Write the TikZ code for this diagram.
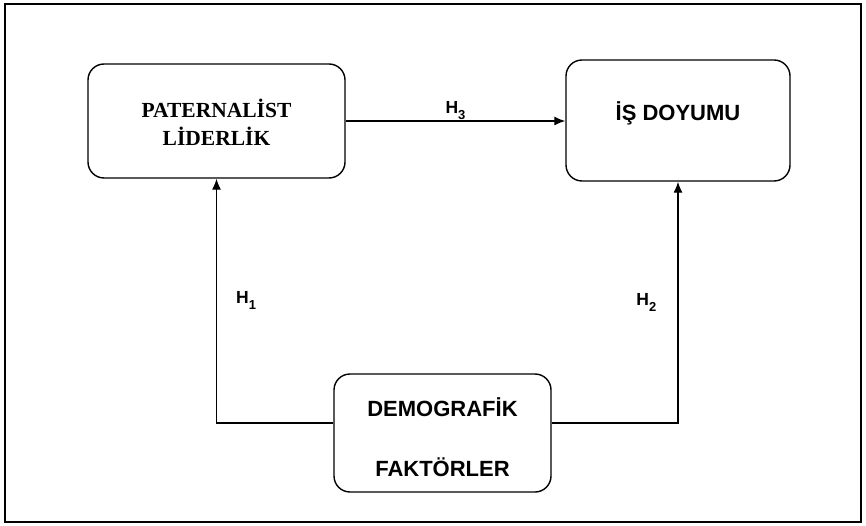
\documentclass[tikz,border=0pt]{standalone}
\usepackage{fontspec}
\setmainfont{Liberation Serif}
\setsansfont{Liberation Sans}
\usetikzlibrary{arrows.meta}

\newcommand\hypo[1]{H\raisebox{-6pt}{\fontsize{13}{13}\selectfont #1}}

\begin{document}
\begin{tikzpicture}[x=1pt, y=-1pt]
	\tikzstyle{box} = [
		rectangle, rounded corners=16pt, draw=black, line width=1.4pt
	]
	\tikzstyle{caption} = [
		font=\fontsize{22}{26}\selectfont\sffamily\bfseries, align=center
	]
	\tikzstyle{hyp} = [
		font=\fontsize{17.5}{18}\selectfont\sffamily\bfseries, inner sep=0pt
	]
	\tikzstyle{conn} = [
		line width=1.3pt, -{Latex[length=11pt, width=9pt]}
	]

	% Frame
	\useasboundingbox (0,0) rectangle (866,526);
	\draw[line width=1.5pt] (5,4) rectangle (861,522);

	% Paternalist
	\node (Paternalist) [box, minimum width=257pt, minimum height=114pt] at (216.5,121) {}
		% Caption
		node [caption, font=\fontsize{21.5}{27.3}\selectfont\rmfamily\bfseries, yshift=-1.3pt] at (Paternalist.center) {PATERNALİST\\LİDERLİK}
	;

	% Is doyumu
	\node (Doyum) [box, minimum width=224pt, minimum height=121pt] at (678,120.5) {}
		node [caption, yshift=7.5pt] at (Doyum.center) {İŞ DOYUMU}
	;

	% Demografik
	\node (Demografik) [box, minimum width=217pt, minimum height=118pt] at (442.5,433) {}
		node [caption, yshift=-3.7pt] at (Demografik.center) {DEMOGRAFİK\\[34pt]FAKTÖRLER}
		% Outputs links/rechts
		coordinate [yshift=10pt] (Demografik_l) at (Demografik.west)
		coordinate [yshift=10pt] (Demografik_r) at (Demografik.east)
	;

	% Demografik -> Paternalist, Doyum
	\draw[conn] (Demografik_l) -| node[hyp, pos=0.75, right=19pt] {\hypo{1}} (Paternalist.south);
	\draw[conn] (Demografik_r) -| node[hyp, pos=0.75, left=21pt] {\hypo{2}} (Doyum.south);

	% Paternalist -> Doyum
	\draw[conn] (Paternalist.east) -- node[hyp, midway, above=1pt] {\hypo{3}} (Paternalist.east -| Doyum.west);

\end{tikzpicture}
\end{document}
